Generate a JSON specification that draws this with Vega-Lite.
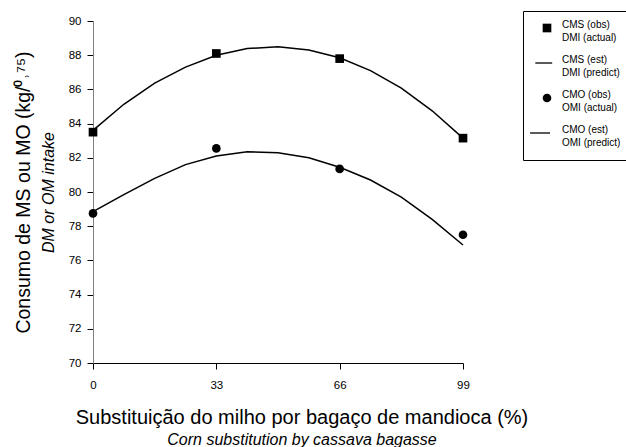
{
  "$schema": "https://vega.github.io/schema/vega-lite/v6.json",
  "width": 370,
  "height": 342,
  "autosize": "none",
  "padding": {"left": 93, "top": 21, "right": 163, "bottom": 84},
  "background": "white",
  "config": {
    "font": "Liberation Sans",
    "view": {"stroke": null},
    "style": {"guide-label": {"lineHeight": 13}},
    "axis": {"grid": false, "labelFont": "Liberation Sans", "titleFont": "Liberation Sans", "labelColor": "black", "titleColor": "black", "tickColor": "black"}
  },
  "title": {
    "text": "Substituição do milho por bagaço de mandioca (%)",
    "subtitle": "Corn substitution by cassava bagasse",
    "orient": "bottom",
    "anchor": "middle",
    "font": "Liberation Sans",
    "fontSize": 20,
    "fontWeight": "normal",
    "color": "black",
    "subtitleFont": "Liberation Sans",
    "subtitleFontSize": 16,
    "subtitleFontStyle": "italic",
    "subtitleColor": "black",
    "subtitlePadding": 4,
    "offset": 17,
    "dx": 24
  },
  "data": {
    "values": [
      {"x": 0, "y": 83.5, "series": "CMS (obs)", "group": "CMS", "type": "obs"},
      {"x": 33, "y": 88.1, "series": "CMS (obs)", "group": "CMS", "type": "obs"},
      {"x": 66, "y": 87.8, "series": "CMS (obs)", "group": "CMS", "type": "obs"},
      {"x": 99, "y": 83.15, "series": "CMS (obs)", "group": "CMS", "type": "obs"},
      {"x": 0, "y": 78.75, "series": "CMO (obs)", "group": "CMO", "type": "obs"},
      {"x": 33, "y": 82.55, "series": "CMO (obs)", "group": "CMO", "type": "obs"},
      {"x": 66, "y": 81.35, "series": "CMO (obs)", "group": "CMO", "type": "obs"},
      {"x": 99, "y": 77.5, "series": "CMO (obs)", "group": "CMO", "type": "obs"},
      {"x": 0, "y": 83.6, "series": "CMS (est)", "group": "CMS", "type": "est"},
      {"x": 8.25, "y": 85.13, "series": "CMS (est)", "group": "CMS", "type": "est"},
      {"x": 16.5, "y": 86.37, "series": "CMS (est)", "group": "CMS", "type": "est"},
      {"x": 24.75, "y": 87.3, "series": "CMS (est)", "group": "CMS", "type": "est"},
      {"x": 33, "y": 88.0, "series": "CMS (est)", "group": "CMS", "type": "est"},
      {"x": 41.25, "y": 88.39, "series": "CMS (est)", "group": "CMS", "type": "est"},
      {"x": 49.5, "y": 88.49, "series": "CMS (est)", "group": "CMS", "type": "est"},
      {"x": 57.75, "y": 88.31, "series": "CMS (est)", "group": "CMS", "type": "est"},
      {"x": 66, "y": 87.85, "series": "CMS (est)", "group": "CMS", "type": "est"},
      {"x": 74.25, "y": 87.1, "series": "CMS (est)", "group": "CMS", "type": "est"},
      {"x": 82.5, "y": 86.07, "series": "CMS (est)", "group": "CMS", "type": "est"},
      {"x": 90.75, "y": 84.75, "series": "CMS (est)", "group": "CMS", "type": "est"},
      {"x": 99, "y": 83.15, "series": "CMS (est)", "group": "CMS", "type": "est"},
      {"x": 0, "y": 78.85, "series": "CMO (est)", "group": "CMO", "type": "est"},
      {"x": 8.25, "y": 79.85, "series": "CMO (est)", "group": "CMO", "type": "est"},
      {"x": 16.5, "y": 80.8, "series": "CMO (est)", "group": "CMO", "type": "est"},
      {"x": 24.75, "y": 81.6, "series": "CMO (est)", "group": "CMO", "type": "est"},
      {"x": 33, "y": 82.1, "series": "CMO (est)", "group": "CMO", "type": "est"},
      {"x": 41.25, "y": 82.35, "series": "CMO (est)", "group": "CMO", "type": "est"},
      {"x": 49.5, "y": 82.3, "series": "CMO (est)", "group": "CMO", "type": "est"},
      {"x": 57.75, "y": 82.0, "series": "CMO (est)", "group": "CMO", "type": "est"},
      {"x": 66, "y": 81.45, "series": "CMO (est)", "group": "CMO", "type": "est"},
      {"x": 74.25, "y": 80.7, "series": "CMO (est)", "group": "CMO", "type": "est"},
      {"x": 82.5, "y": 79.7, "series": "CMO (est)", "group": "CMO", "type": "est"},
      {"x": 90.75, "y": 78.4, "series": "CMO (est)", "group": "CMO", "type": "est"},
      {"x": 99, "y": 76.9, "series": "CMO (est)", "group": "CMO", "type": "est"}
    ]
  },
  "layer": [
    {
      "transform": [{"filter": "datum.type == 'obs'"}],
      "mark": {"type": "point", "filled": true, "opacity": 1, "color": "black", "size": 75},
      "encoding": {
        "x": {
          "field": "x", "type": "quantitative",
          "scale": {"domain": [0, 99], "nice": false, "zero": false},
          "axis": {"values": [0, 33, 66, 99], "title": null, "domainColor": "black", "labelFontSize": 11.5, "labelPadding": 10, "tickSize": 6, "labelFlush": false}
        },
        "y": {
          "field": "y", "type": "quantitative",
          "scale": {"domain": [70, 90], "nice": false, "zero": false},
          "axis": {"values": [70, 72, 74, 76, 78, 80, 82, 84, 86, 88, 90], "title": "DM or OM intake", "titleFontStyle": "italic", "titleFontWeight": "normal", "titleFontSize": 16, "titlePadding": 12, "domainColor": "#808080", "labelFontSize": 11.5, "labelPadding": 6, "tickSize": 6, "labelFlush": false}
        },
        "shape": {
          "field": "series", "type": "nominal",
          "scale": {"domain": ["CMS (obs)", "CMS (est)", "CMO (obs)", "CMO (est)"], "range": ["square", "M-2.7,-0.15H1.2V0.15H-2.7Z", "circle", "M-3.9,-0.15H0.7V0.15H-3.9Z"]},
          "legend": {
            "title": null,
            "orient": "none",
            "legendX": 430,
            "legendY": -10,
            "strokeColor": "black",
            "fillColor": "white",
            "padding": 12,
            "labelFont": "Liberation Sans",
            "labelFontSize": 10,
            "labelColor": "black",
            "labelBaseline": "alphabetic",
            "labelLimit": 200,
            "symbolFillColor": "black",
            "symbolStrokeColor": "black",
            "symbolStrokeWidth": 0,
            "symbolSize": 75,
            "symbolOffset": 7,
            "rowPadding": 12,
            "labelOffset": 10,
            "labelExpr": "datum.label == 'CMS (obs)' ? ['CMS (obs)', 'DMI (actual)'] : datum.label == 'CMS (est)' ? ['CMS (est)', 'DMI (predict)'] : datum.label == 'CMO (obs)' ? ['CMO (obs)', 'OMI (actual)'] : ['CMO (est)', 'OMI (predict)']"
          }
        }
      }
    },
    {
      "transform": [{"filter": "datum.type == 'est'"}],
      "mark": {"type": "line", "color": "black", "strokeWidth": 1.5},
      "encoding": {
        "x": {"field": "x", "type": "quantitative"},
        "y": {
          "field": "y", "type": "quantitative",
          "axis": {"orient": "left", "labels": false, "ticks": false, "domain": false, "title": "Consumo de MS ou MO (kg/⁰˒⁷⁵)", "titleFontSize": 19.5, "titleFontWeight": "normal", "titlePadding": 60}
        },
        "detail": {"field": "group", "type": "nominal"}
      }
    }
  ],
  "resolve": {"axis": {"y": "independent"}}
}
